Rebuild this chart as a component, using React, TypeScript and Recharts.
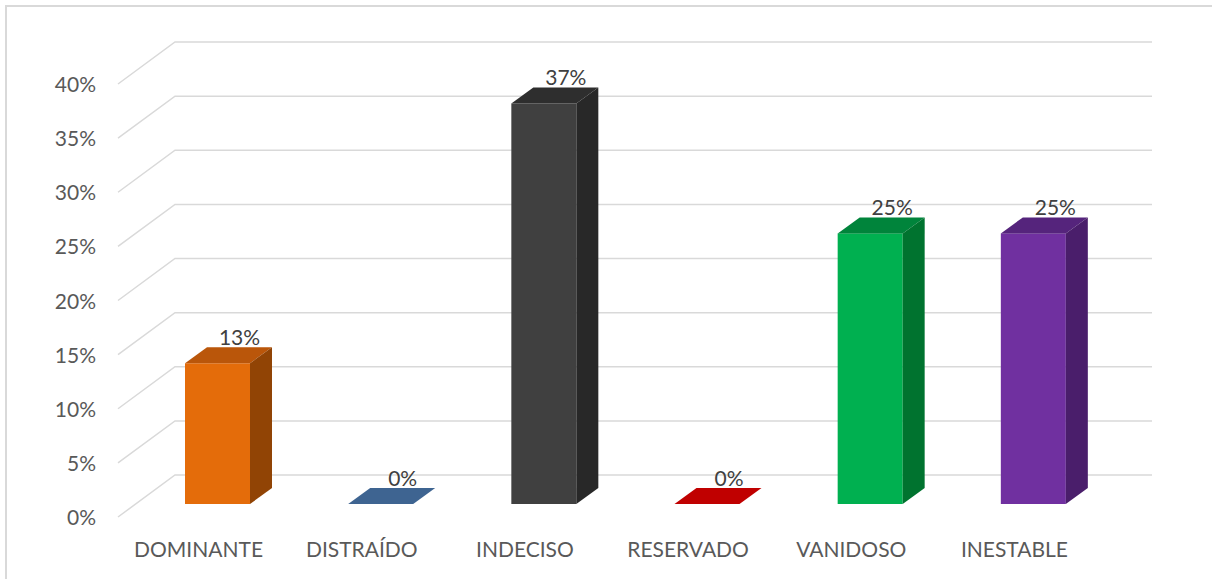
import React from "react";
import { BarChart, Bar, XAxis, YAxis, Cell, LabelList, CartesianGrid } from "recharts";

const categories = ["DOMINANTE", "DISTRAÍDO", "INDECISO", "RESERVADO", "VANIDOSO", "INESTABLE"];
const values = [0.13, 0, 0.37, 0, 0.25, 0.25];
const yTicks = [0, 0.05, 0.1, 0.15, 0.2, 0.25, 0.3, 0.35, 0.4];

const frontColors = ["#E46C0A", "#3E6491", "#404040", "#C00000", "#00B050", "#7030A0"];
const topColors = ["#BA560A", "#3E6491", "#2E2E2E", "#C00000", "#00843B", "#55247C"];
const sideColors = ["#914405", "#3E6491", "#282828", "#C00000", "#00732F", "#4A1E6B"];

const data = categories.map((name, i) => ({ name, value: values[i] }));

const FONT = "Lato, 'Open Sans', sans-serif";
const GRID = "#D9D9D9";
// perspective offsets
const WALL_DX = 57;
const WALL_DY = 42;
const BAR_DX = 22;
const BAR_DY = 16;
const BAR_LIFT = 13;
const BAR_SHIFT = 19;
const WALL_RIGHT = 1152;

const GridLine = (props: any) => {
  const { x1, y1 } = props;
  const x0 = x1 + 1;
  return (
    <polyline
      key={props.key ?? `g-${y1}`}
      points={`${x0},${y1} ${x0 + WALL_DX},${y1 - WALL_DY} ${WALL_RIGHT},${y1 - WALL_DY}`}
      fill="none"
      stroke={GRID}
      strokeWidth={1.5}
    />
  );
};

const YTick = (props: any) => {
  const { y, payload } = props;
  return (
    <text x={96} y={y + 8} textAnchor="end" fill="#595959" fontSize={21} fontFamily={FONT}>
      {`${Math.round(payload.value * 100)}%`}
    </text>
  );
};

const XTick = (props: any) => {
  const { x, y, payload } = props;
  return (
    <text x={x} y={y + 32} textAnchor="middle" fill="#595959" fontSize={21} fontFamily={FONT}>
      {payload.value}
    </text>
  );
};

const Box = (props: any) => {
  const { x, y, width, height, index } = props;
  const fx = x + BAR_SHIFT;
  const bottom = y + height - BAR_LIFT;
  const top = y - BAR_LIFT;
  const w = width;
  if (height < 0.5) {
    return (
      <polygon
        points={`${fx},${bottom} ${fx + w},${bottom} ${fx + w + BAR_DX},${bottom - BAR_DY} ${fx + BAR_DX},${bottom - BAR_DY}`}
        fill={frontColors[index]}
      />
    );
  }
  return (
    <g>
      <rect x={fx} y={top} width={w} height={bottom - top} fill={frontColors[index]} />
      <polygon
        points={`${fx},${top} ${fx + w},${top} ${fx + w + BAR_DX},${top - BAR_DY} ${fx + BAR_DX},${top - BAR_DY}`}
        fill={topColors[index]}
      />
      <polygon
        points={`${fx + w},${top} ${fx + w + BAR_DX},${top - BAR_DY} ${fx + w + BAR_DX},${bottom - BAR_DY} ${fx + w},${bottom}`}
        fill={sideColors[index]}
      />
    </g>
  );
};

const ValueLabel = (props: any) => {
  const { x, y, width, value } = props;
  const cx = x + BAR_SHIFT + width / 2 + BAR_DX;
  const by = y - BAR_LIFT - BAR_DY - 2;
  return (
    <text x={cx} y={by} textAnchor="middle" fill="#404040" fontSize={21} fontFamily={FONT}>
      {`${Math.round(value * 100)}%`}
    </text>
  );
};

export default function App() {
  return (
    <div style={{ position: "relative", width: 1212, height: 579, background: "#fff" }}>
      <style>{"body{margin:0}"}</style>
      <div
        style={{
          position: "absolute",
          left: 5,
          top: 5,
          width: 1207,
          height: 574,
          borderTop: `2px solid ${GRID}`,
          borderLeft: `2px solid ${GRID}`,
          boxSizing: "border-box",
        }}
      />
      <div style={{ position: "absolute", left: 0, top: 0 }}>
        <BarChart
          width={1212}
          height={579}
          data={data}
          margin={{ top: 84, right: 116, bottom: 0, left: 0 }}
          barSize={65}
        >
          <CartesianGrid vertical={false} horizontal={<GridLine />} />
          <YAxis
            width={117}
            domain={[0, 0.4]}
            ticks={yTicks}
            axisLine={false}
            tickLine={false}
            tick={<YTick />}
            interval={0}
          />
          <XAxis dataKey="name" height={62} axisLine={false} tickLine={false} tick={<XTick />} interval={0} />
          <Bar dataKey="value" shape={<Box />} isAnimationActive={false}>
            {data.map((d, i) => (
              <Cell key={d.name} fill={frontColors[i]} />
            ))}
            <LabelList dataKey="value" content={<ValueLabel />} />
          </Bar>
        </BarChart>
      </div>
    </div>
  );
}
